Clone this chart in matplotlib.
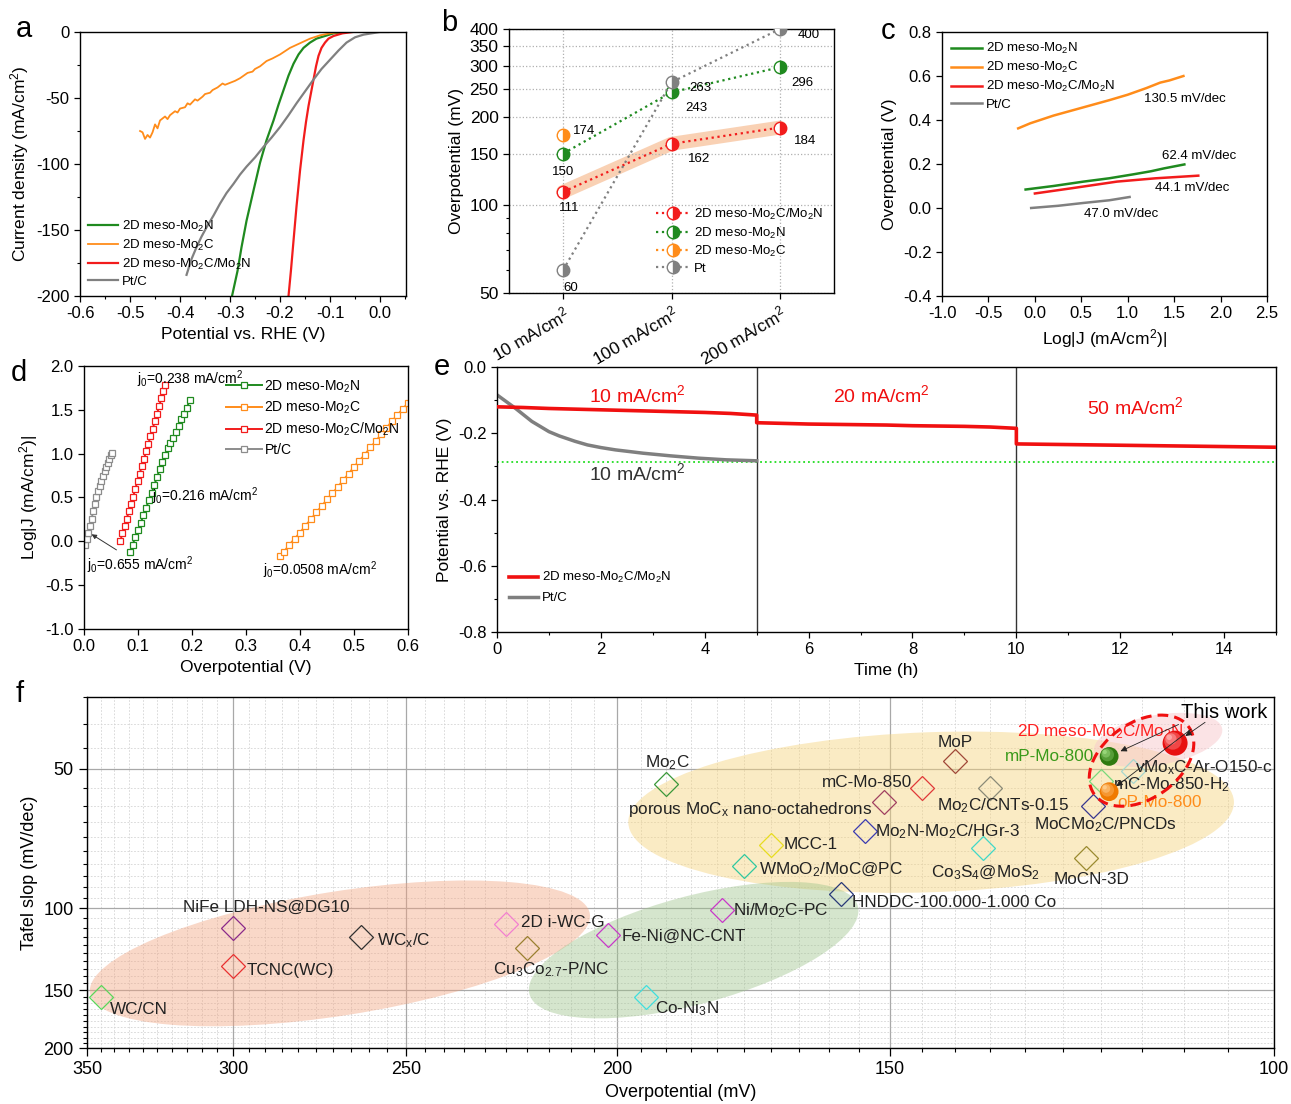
import matplotlib

matplotlib.use("Agg")
import matplotlib.pyplot as plt
import matplotlib.transforms as mtransforms
import numpy as np
from matplotlib.patches import Ellipse
from matplotlib.ticker import FuncFormatter, MultipleLocator, NullFormatter

plt.rcParams["font.family"] = ["Liberation Sans", "DejaVu Sans"]
plt.rcParams["mathtext.default"] = "regular"
plt.rcParams["xtick.direction"] = "out"
plt.rcParams["ytick.direction"] = "out"
plt.rcParams["axes.linewidth"] = 1.0

GREEN = "#1f8a1f"
ORANGE = "#ff8c1a"
RED = "#f21c1c"
GRAY = "#808080"

# ---- panel a: polarization curves (potential V, current density mA/cm2)
a_mo2n_v = [-0.070, -0.093, -0.110, -0.127, -0.140, -0.153, -0.163, -0.173, -0.183, -0.193,
            -0.203, -0.213, -0.227, -0.240, -0.253, -0.267, -0.277, -0.285, -0.296]
a_mo2n_j = [0, -1, -3, -5, -8, -12, -17, -24, -33, -44, -55, -67, -82, -99, -120, -143, -163, -181, -200]
a_mo2c_v = [-0.075, -0.09, -0.10, -0.12, -0.14, -0.16, -0.18, -0.20, -0.215, -0.227, -0.24, -0.25,
            -0.255, -0.265, -0.28, -0.29, -0.30, -0.31, -0.315, -0.325, -0.335, -0.34, -0.35, -0.355,
            -0.365, -0.37, -0.38, -0.385, -0.39, -0.40, -0.405, -0.41, -0.42, -0.425, -0.43, -0.44,
            -0.445, -0.45, -0.455, -0.46, -0.465, -0.47, -0.475, -0.48]
a_mo2c_j = [0, -0.5, -1, -2.5, -5, -8.5, -12, -17, -20, -22, -26, -28, -30, -31, -35, -37, -38.5,
            -40, -39, -42, -44, -46, -47, -49, -52, -51, -55, -54, -57, -58, -61, -60, -63, -66, -64,
            -67, -73, -70, -76, -80, -78, -81, -76, -75]
a_het_v = [-0.055, -0.075, -0.093, -0.103, -0.110, -0.117, -0.123, -0.128, -0.133, -0.138, -0.143,
           -0.148, -0.153, -0.160, -0.167, -0.173, -0.178, -0.183]
a_het_j = [0, -1, -3, -5, -8, -12, -18, -26, -36, -46, -56, -68, -82, -105, -132, -158, -180, -200]
a_pt_v = [0.017, 0.0, -0.017, -0.033, -0.050, -0.067, -0.083, -0.100, -0.117, -0.133, -0.150, -0.167,
          -0.183, -0.200, -0.217, -0.233, -0.250, -0.267, -0.280, -0.293, -0.307, -0.320, -0.333,
          -0.347, -0.357, -0.367, -0.377, -0.387]
a_pt_j = [0, 0, -1, -2, -4, -8, -14, -21, -28, -36, -45, -54, -63, -72, -80, -87, -95, -102, -108,
          -115, -122, -130, -139, -148, -155, -163, -172, -184]

# ---- panel b: overpotential at current densities
b_cats = ["10 mA/cm$^2$", "100 mA/cm$^2$", "200 mA/cm$^2$"]
b_het = [111, 162, 184]
b_mo2n = [150, 243, 296]
b_mo2c = [174]
b_pt = [60, 263, 400]

# ---- panel c: Tafel plots
c_mo2n_x = [-0.10, 0.20, 0.525, 0.80, 1.06, 1.25, 1.39, 1.50, 1.61]
c_mo2n_y = [0.084, 0.100, 0.120, 0.135, 0.153, 0.167, 0.180, 0.189, 0.198]
c_mo2c_x = [-0.18, -0.05, 0.20, 0.50, 0.80, 1.00, 1.20, 1.35, 1.45, 1.60]
c_mo2c_y = [0.362, 0.385, 0.420, 0.455, 0.490, 0.515, 0.545, 0.570, 0.580, 0.600]
c_het_x = [0.0, 0.40, 0.885, 1.30, 1.76]
c_het_y = [0.066, 0.090, 0.120, 0.135, 0.147]
c_pt_x = [-0.04, 0.25, 0.525, 0.80, 1.02]
c_pt_y = [0.0, 0.010, 0.023, 0.035, 0.050]
c_slopes = ["62.4 mV/dec", "130.5 mV/dec", "44.1 mV/dec", "47.0 mV/dec"]

# ---- panel d: exchange current density plots
d_mo2n_x = [0.085, 0.090, 0.095, 0.100, 0.105, 0.110, 0.115, 0.120, 0.125, 0.130, 0.135, 0.140,
            0.145, 0.150, 0.155, 0.160, 0.165, 0.170, 0.175, 0.180, 0.185, 0.190, 0.196]
d_mo2n_y = [-0.12, -0.04, 0.05, 0.13, 0.21, 0.30, 0.38, 0.47, 0.55, 0.64, 0.73, 0.82, 0.91, 0.99,
            1.06, 1.12, 1.18, 1.25, 1.32, 1.39, 1.45, 1.52, 1.61]
d_mo2c_x = [0.363, 0.37, 0.38, 0.39, 0.40, 0.41, 0.42, 0.43, 0.44, 0.45, 0.46, 0.47, 0.48, 0.49,
            0.50, 0.51, 0.52, 0.53, 0.54, 0.55, 0.56, 0.57, 0.58, 0.59, 0.60]
d_mo2c_y = [-0.17, -0.12, -0.04, 0.03, 0.10, 0.18, 0.25, 0.33, 0.40, 0.48, 0.55, 0.62, 0.70, 0.77,
            0.85, 0.92, 0.99, 1.07, 1.14, 1.22, 1.29, 1.37, 1.44, 1.51, 1.58]
d_het_x = [0.067, 0.071, 0.075, 0.079, 0.083, 0.087, 0.091, 0.095, 0.099, 0.103, 0.107, 0.111,
           0.115, 0.119, 0.123, 0.127, 0.131, 0.135, 0.139, 0.143, 0.147, 0.150]
d_het_y = [0.00, 0.09, 0.17, 0.26, 0.34, 0.43, 0.51, 0.60, 0.69, 0.77, 0.86, 0.94, 1.03, 1.11, 1.20,
           1.28, 1.37, 1.45, 1.54, 1.63, 1.71, 1.78]
d_pt_x = [0.002, 0.005, 0.008, 0.011, 0.014, 0.017, 0.020, 0.023, 0.026, 0.029, 0.032, 0.035,
          0.038, 0.041, 0.044, 0.047, 0.050, 0.052]
d_pt_y = [-0.04, 0.03, 0.10, 0.18, 0.26, 0.34, 0.42, 0.50, 0.57, 0.63, 0.69, 0.75, 0.80, 0.85,
          0.89, 0.94, 0.98, 1.01]
d_j0 = ["0.216", "0.0508", "0.238", "0.655"]

# ---- panel e: chronopotentiometry
e_het_t = [0, 0.5, 1, 1.5, 2, 2.5, 3, 3.5, 4, 4.5, 5,
           5, 5.5, 6, 6.5, 7, 7.5, 8, 8.5, 9, 9.5, 10,
           10, 10.5, 11, 11.5, 12, 12.5, 13, 13.5, 14, 14.5, 15]
e_het_v = [-0.120, -0.122, -0.125, -0.127, -0.129, -0.131, -0.133, -0.135, -0.137, -0.140, -0.145,
           -0.168, -0.170, -0.172, -0.173, -0.174, -0.175, -0.177, -0.178, -0.179, -0.181, -0.185,
           -0.232, -0.233, -0.234, -0.235, -0.236, -0.237, -0.238, -0.239, -0.240, -0.241, -0.242]
e_pt_t = [0, 0.35, 0.67, 1.0, 1.2, 1.5, 1.74, 2.0, 2.28, 2.6, 2.81, 3.34, 3.88, 4.41, 5.0]
e_pt_v = [-0.084, -0.124, -0.164, -0.195, -0.208, -0.224, -0.235, -0.243, -0.250, -0.256, -0.260,
          -0.268, -0.275, -0.280, -0.283]
e_steps = [5, 10]
e_currents = ["10", "20", "50"]
e_ref = -0.287

# ---- panel f: comparison with literature (overpotential mV, Tafel slope mV/dec)
f_names = ["WC/CN", "NiFe LDH-NS@DG10", "TCNC(WC)", "WC$_x$/C", "2D i-WC-G",
           "Cu$_3$Co$_{2.7}$-P/NC", "Fe-Ni@NC-CNT", "Co-Ni$_3$N", "Ni/Mo$_2$C-PC",
           "HNDDC-100.000-1.000 Co", "WMoO$_2$/MoC@PC", "MCC-1", "Mo$_2$N-Mo$_2$C/HGr-3",
           "porous MoC$_x$ nano-octahedrons", "mC-Mo-850", "MoP", "Mo$_2$C", "Mo$_2$C/CNTs-0.15",
           "Co$_3$S$_4$@MoS$_2$", "MoCN-3D", "MoCMo$_2$C/PNCDs", "vMo$_x$C-Ar-O150-c",
           "mC-Mo-850-H$_2$"]
f_eta = [345, 300, 300, 262, 225, 220, 202, 194, 179, 158, 175, 170, 154, 151, 145, 140, 190, 135,
         136, 122, 121, 116, 120]
f_tafel = [155, 110, 133, 115, 108, 122, 114, 155, 101, 93, 81, 73, 68, 59, 55, 48, 54, 55, 74, 78,
           60, 50.5, 53]
f_ours = ["mP-Mo-800", "oP-Mo-800", "2D meso-Mo$_2$C/Mo$_2$N"]
f_ours_eta = [119, 119, 111]
f_ours_tafel = [47, 56, 44]

# styles / label placement for panel f (offset in points, alignment)
f_colors = ["#5ad65a", "#8a2a8a", "#e83030", "#303030", "#f27fd0", "#9a7f30", "#c838c8", "#40dede",
            "#c838c8", "#283878", "#30c8a0", "#e8dc20", "#3a3ab0", "#a04060", "#e03838", "#a04838",
            "#3a983a", "#8a8a78", "#40d8c8", "#9a8a30", "#383890", "#a8d8d0", "#7ad87a"]
f_offsets = [(6.5, -9.4, "left"), (24, 14.4, "center"), (10, -3.6, "left"), (11.5, -2.9, "left"),
             (10.8, 1.4, "left"), (-24.5, -15, "left"), (10, -1.4, "left"), (6.5, -8.6, "left"),
             (7.6, 0, "left"), (8.3, -6.5, "left"), (10.8, -2.9, "left"), (8.6, 0.7, "left"),
             (7.2, -0.7, "left"), (-7.9, -5, "right"), (-7, 4.3, "right"), (0, 13, "center"),
             (1.4, 16, "center"), (-38, -13, "left"), (-37.4, -18, "left"), (-23, -15, "left"),
             (-43, -13.7, "left"), (1.4, 2.2, "left"), (8.6, -2.9, "left")]

fig = plt.figure(figsize=(12.91, 11.04), dpi=100)
TICK = 12
LAB = 12.5


def style(ax, size=TICK):
    ax.tick_params(labelsize=size, length=4, width=0.9, top=False, right=False)
    ax.tick_params(which="minor", length=2.5, width=0.8)


def fmt1(v, _):
    return f"{round(v, 6) + 0.0:.1f}"


def fmtg(v, _):
    return f"{round(v, 6) + 0.0:g}"


# ------------------------------------------------------------------ a
ax = fig.add_axes([0.0620, 0.7319, 0.2525, 0.2391])
ax.plot(a_mo2n_v, a_mo2n_j, color=GREEN, lw=1.6, label="2D meso-Mo$_2$N")
ax.plot(a_mo2c_v, a_mo2c_j, color=ORANGE, lw=1.3, label="2D meso-Mo$_2$C")
ax.plot(a_het_v, a_het_j, color=RED, lw=1.6, label="2D meso-Mo$_2$C/Mo$_2$N")
ax.plot(a_pt_v, a_pt_j, color=GRAY, lw=1.6, label="Pt/C")
ax.set_xlim(-0.6, 0.052)
ax.set_ylim(-200, 0)
ax.set_xticks(np.arange(-0.6, 0.01, 0.1))
ax.set_yticks(np.arange(-200, 1, 50))
ax.xaxis.set_major_formatter(FuncFormatter(fmt1))
ax.yaxis.set_major_formatter(FuncFormatter(fmtg))
ax.xaxis.set_minor_locator(MultipleLocator(0.05))
ax.yaxis.set_minor_locator(MultipleLocator(25))
ax.set_xlabel("Potential vs. RHE (V)", fontsize=LAB)
ax.set_ylabel("Current density (mA/cm$^2$)", fontsize=LAB)
ax.legend(loc="lower left", frameon=False, fontsize=9.5, handlelength=2.3, labelspacing=0.3,
          borderaxespad=0.2, handletextpad=0.3)
style(ax)

# ------------------------------------------------------------------ b
ax = fig.add_axes([0.3943, 0.7346, 0.2517, 0.2391])
bx = np.arange(len(b_cats))
ax.plot(bx, b_het, color="#f4a46a", lw=10, alpha=0.5, solid_capstyle="round", zorder=1)
b_series = [(b_het, RED, "2D meso-Mo$_2$C/Mo$_2$N"), (b_mo2n, GREEN, "2D meso-Mo$_2$N"),
            (b_mo2c, ORANGE, "2D meso-Mo$_2$C"), (b_pt, GRAY, "Pt")]
for vals, c, lab in b_series:
    ax.plot(bx[:len(vals)], vals, ls=":", color=c, lw=1.6, marker="o", ms=9, fillstyle="right",
            mfc=c, markerfacecoloralt="white", mec=c, mew=1.0, label=lab, zorder=3)
b_off = {"het": [(-3, -12), (12, -11), (10, -10)], "mo2n": [(-8, -13), (10, -11), (8, -11)],
         "mo2c": [(7, 3)], "pt": [(0, -13), (13, -4), (13, -4)]}
for vals, key in [(b_het, "het"), (b_mo2n, "mo2n"), (b_mo2c, "mo2c"), (b_pt, "pt")]:
    for i, v in enumerate(vals):
        ox, oy = b_off[key][i]
        ax.annotate(f"{v}", (bx[i], v), xytext=(ox, oy), textcoords="offset points",
                    fontsize=9.5, ha="left", va="center", zorder=4)
ax.set_yscale("log")
ax.set_ylim(50, 400)
ax.set_xlim(-0.5, 2.5)
ax.set_yticks([50, 100, 150, 200, 250, 300, 350, 400])
ax.yaxis.set_major_formatter(FuncFormatter(fmtg))
ax.yaxis.set_minor_formatter(NullFormatter())
ax.set_xticks(bx)
ax.set_xticklabels(b_cats, rotation=30, ha="right", rotation_mode="anchor")
ax.grid(True, ls=":", color="#b0b0b0", lw=0.9)
ax.set_ylabel("Overpotential (mV)", fontsize=LAB)
ax.legend(loc="lower right", frameon=False, fontsize=9.5, handlelength=2.6, labelspacing=0.25,
          borderaxespad=0.4, handletextpad=0.3, bbox_to_anchor=(1.0, 0.03))
style(ax, 12.5)

# ------------------------------------------------------------------ c
ax = fig.add_axes([0.7297, 0.7319, 0.2517, 0.2391])
ax.plot(c_mo2n_x, c_mo2n_y, color=GREEN, lw=1.8, label="2D meso-Mo$_2$N")
ax.plot(c_mo2c_x, c_mo2c_y, color=ORANGE, lw=1.8, label="2D meso-Mo$_2$C")
ax.plot(c_het_x, c_het_y, color=RED, lw=1.8, label="2D meso-Mo$_2$C/Mo$_2$N")
ax.plot(c_pt_x, c_pt_y, color=GRAY, lw=1.8, label="Pt/C")
ax.text(1.37, 0.238, c_slopes[0], fontsize=9.5, va="center")
ax.text(1.17, 0.496, c_slopes[1], fontsize=9.5, va="center")
ax.text(1.29, 0.089, c_slopes[2], fontsize=9.5, va="center")
ax.text(0.525, -0.028, c_slopes[3], fontsize=9.5, va="center")
ax.set_xlim(-1.0, 2.5)
ax.set_ylim(-0.4, 0.8)
ax.set_xticks(np.arange(-1.0, 2.51, 0.5))
ax.xaxis.set_major_formatter(FuncFormatter(fmt1))
ax.yaxis.set_major_formatter(FuncFormatter(fmt1))
ax.set_xlabel("Log|J (mA/cm$^2$)|", fontsize=LAB)
ax.set_ylabel("Overpotential (V)", fontsize=LAB)
ax.legend(loc="upper left", frameon=False, fontsize=9.5, handlelength=2.3, labelspacing=0.3,
          borderaxespad=0.3, handletextpad=0.3)
style(ax)

# ------------------------------------------------------------------ d
ax = fig.add_axes([0.0651, 0.4303, 0.2510, 0.2382])
d_series = [(d_mo2n_x, d_mo2n_y, GREEN, "2D meso-Mo$_2$N"),
            (d_mo2c_x, d_mo2c_y, ORANGE, "2D meso-Mo$_2$C"),
            (d_het_x, d_het_y, RED, "2D meso-Mo$_2$C/Mo$_2$N"),
            (d_pt_x, d_pt_y, "#8c8c8c", "Pt/C")]
for xs, ys, c, lab in d_series:
    ax.plot(xs, ys, color=c, lw=1.4, marker="s", ms=5, mfc="white", mec=c, mew=0.9, label=lab)
ax.text(0.126, 0.51, f"j$_0$={d_j0[0]} mA/cm$^2$", fontsize=10, va="center")
ax.text(0.331, -0.33, f"j$_0$={d_j0[1]} mA/cm$^2$", fontsize=10, va="center")
ax.text(0.098, 1.85, f"j$_0$={d_j0[2]} mA/cm$^2$", fontsize=10, va="center")
ax.annotate(f"j$_0$={d_j0[3]} mA/cm$^2$", xy=(0.014, 0.08), xytext=(0.006, -0.27),
            fontsize=10, va="center",
            arrowprops=dict(arrowstyle="-|>", color="#333333", lw=0.7, shrinkA=2, shrinkB=0,
                            mutation_scale=7))
ax.set_xlim(0, 0.6)
ax.set_ylim(-1.0, 2.0)
ax.set_xticks(np.arange(0, 0.61, 0.1))
ax.set_yticks(np.arange(-1.0, 2.01, 0.5))
ax.xaxis.set_major_formatter(FuncFormatter(fmt1))
ax.yaxis.set_major_formatter(FuncFormatter(fmt1))
ax.set_xlabel("Overpotential (V)", fontsize=LAB)
ax.set_ylabel("Log|J (mA/cm$^2$)|", fontsize=LAB)
ax.legend(loc="upper right", frameon=False, fontsize=10, handlelength=2.6, labelspacing=0.35,
          borderaxespad=0.2, handletextpad=0.2, bbox_to_anchor=(1.0, 0.985))
style(ax)

# ------------------------------------------------------------------ e
ax = fig.add_axes([0.3850, 0.4275, 0.6034, 0.2400])
ax.axhline(e_ref, color="#22dd22", ls=":", lw=1.3, zorder=1)
for t in e_steps:
    ax.axvline(t, color="#333333", lw=1.0, zorder=1)
ax.plot(e_pt_t, e_pt_v, color="#7f7f7f", lw=2.5, label="Pt/C", zorder=2)
ax.plot(e_het_t, e_het_v, color="#f01010", lw=2.6, label="2D meso-Mo$_2$C/Mo$_2$N", zorder=3)
for t, lab, v in zip([2.7, 7.4, 12.3], e_currents, [-0.085, -0.085, -0.12]):
    ax.text(t, v, f"{lab} mA/cm$^2$", color="#f01010", fontsize=14, ha="center", va="center")
ax.text(2.7, -0.32, f"{e_currents[0]} mA/cm$^2$", color="#333333", fontsize=14, ha="center",
        va="center")
ax.set_xlim(0, 15)
ax.set_ylim(-0.8, 0.0)
ax.set_xticks(np.arange(0, 15, 2))
ax.xaxis.set_minor_locator(MultipleLocator(1))
ax.set_yticks(np.arange(-0.8, 0.01, 0.2))
ax.yaxis.set_minor_locator(MultipleLocator(0.1))
ax.yaxis.set_major_formatter(FuncFormatter(fmt1))
ax.set_xlabel("Time (h)", fontsize=LAB)
ax.set_ylabel("Potential vs. RHE (V)", fontsize=LAB)
h, l = ax.get_legend_handles_labels()
ax.legend(h[::-1], l[::-1], loc="lower left", frameon=False, fontsize=9.5, handlelength=2.2,
          labelspacing=0.5, bbox_to_anchor=(0.0, 0.06), handletextpad=0.3)
style(ax)

# ------------------------------------------------------------------ f
ax = fig.add_axes([0.0674, 0.0507, 0.9194, 0.3179])
ax.set_xscale("log")
ax.set_yscale("log")
ax.set_xlim(350, 100)
ax.set_ylim(200, 35)


def blob(x, y, w_in, h_in, angle, **kw):
    tr = fig.dpi_scale_trans + mtransforms.ScaledTranslation(x, y, ax.transData)
    ax.add_patch(Ellipse((0, 0), w_in, h_in, angle=angle, transform=tr, **kw))


blob(143.6, 62, 6.06, 1.60, 2, facecolor="#f6d37c", alpha=0.45, lw=0, zorder=1)
blob(268, 125, 5.06, 1.24, 9, facecolor="#f2a27e", alpha=0.42, lw=0, zorder=1)
blob(184.5, 123, 3.40, 1.08, 15, facecolor="#9cc38a", alpha=0.42, lw=0, zorder=1)
blob(113, 43.3, 1.30, 0.50, 10, facecolor="#f8c8cc", alpha=0.5, lw=0, zorder=1)
blob(115, 48, 1.16, 0.76, 35, facecolor="none", edgecolor="#f01010", lw=2.2,
     ls=(0, (3.5, 2)), zorder=6)

for n, x, y, c, (ox, oy, ha) in zip(f_names, f_eta, f_tafel, f_colors, f_offsets):
    ax.plot(x, y, marker="D", ms=12, mfc="none", mec=c, mew=0.9, ls="none", zorder=3)
    ax.annotate(n, (x, y), xytext=(ox, oy), textcoords="offset points", ha=ha, va="center",
                fontsize=12.3, color="#222222", zorder=4)


def sphere(x, y, d, base, light):
    ax.scatter([x], [y], s=d ** 2, color=base, edgecolors="none", zorder=7)
    for f, a in [(0.7, 0.35), (0.45, 0.5), (0.22, 0.8)]:
        off = mtransforms.ScaledTranslation(-d * (1 - f) * 0.3 / 72, d * (1 - f) * 0.3 / 72,
                                            fig.dpi_scale_trans)
        ax.scatter([x], [y], s=(d * f) ** 2, color=light, alpha=a, edgecolors="none", zorder=7,
                   transform=ax.transData + off)


sphere_style = [("#2f7a10", "#9fdc80", 13.5), ("#f07a00", "#ffd090", 13.5),
                ("#e81010", "#ffb0b0", 18)]
lab_style = [(-10.8, 0, "right", "#3a9a1a"), (5.8, -8, "left", "#ff8c1a"),
             (5.8, 8, "right", "#ff2020")]
for n, x, y, (b, lt, d), (ox, oy, ha, tc) in zip(f_ours, f_ours_eta, f_ours_tafel, sphere_style,
                                                 lab_style):
    sphere(x, y, d, b, lt)
    ax.annotate(n, (x, y), xytext=(ox, oy), textcoords="offset points", ha=ha, va="center",
                fontsize=12.3, color=tc, zorder=5)

ax.annotate("This work", (f_ours_eta[2], f_ours_tafel[2]), xytext=(4.3, 22.3),
            textcoords="offset points", fontsize=14.5, ha="left", va="center", zorder=8)
arrow_kw = dict(arrowstyle="-|>", color="#222222", lw=0.6, mutation_scale=9)
for (x, y), (ox, oy), sh in zip(zip(f_ours_eta, f_ours_tafel), [(50, 23), (59, 45), (21.6, 15)],
                                [9, 6.5, 9]):
    ax.annotate("", (x, y), xytext=(ox, oy), textcoords="offset points",
                arrowprops=dict(shrinkA=0, shrinkB=sh, **arrow_kw), zorder=8)

ax.set_xticks([350, 300, 250, 200, 150, 100])
ax.set_yticks([50, 100, 150, 200])
ax.xaxis.set_major_formatter(FuncFormatter(fmtg))
ax.yaxis.set_major_formatter(FuncFormatter(fmtg))
ax.xaxis.set_minor_locator(MultipleLocator(5))
ax.yaxis.set_minor_locator(MultipleLocator(5))
ax.xaxis.set_minor_formatter(NullFormatter())
ax.yaxis.set_minor_formatter(NullFormatter())
ax.set_axisbelow(True)
ax.grid(True, which="major", color="#a8a8a8", lw=0.9)
ax.grid(True, which="minor", color="#d4d4d4", lw=0.6, ls=(0, (2, 2)))
ax.set_xlabel("Overpotential (mV)", fontsize=13)
ax.set_ylabel("Tafel slop (mV/dec)", fontsize=13)
style(ax, 13)
ax.tick_params(length=6)
ax.tick_params(which="minor", length=3)

for lab, (x, y) in zip("abcdef", [(0.012, 0.974), (0.342, 0.979), (0.682, 0.972), (0.008, 0.662),
                                  (0.336, 0.668), (0.012, 0.371)]):
    fig.text(x, y, lab, fontsize=21, va="center", ha="left")

fig.savefig("out.png", dpi=100)
